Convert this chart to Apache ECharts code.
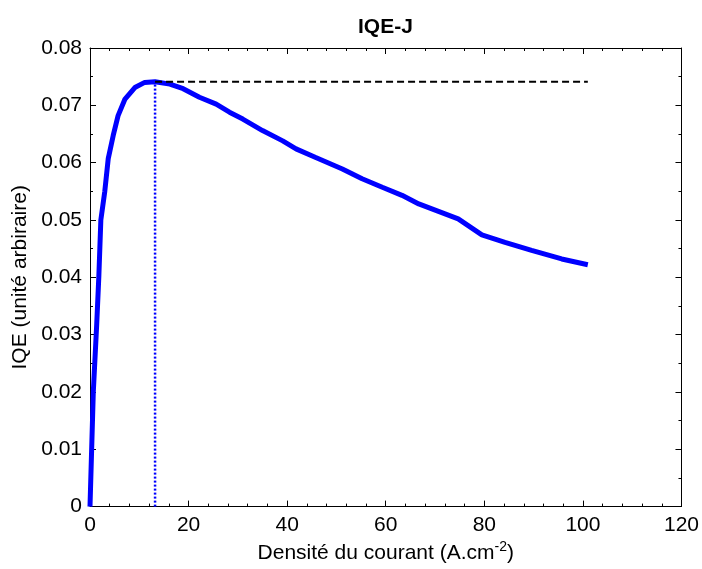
<!DOCTYPE html>
<html>
<head>
<meta charset="utf-8">
<script src="https://cdn.jsdelivr.net/npm/echarts@6/dist/echarts.min.js"></script>
<style>
html,body{margin:0;padding:0;background:#fff;}
#chart{width:702px;height:569px;}
</style>
</head>
<body>
<div id="chart"></div>
<script>
// Data
var currentDensity = [0, 0.67, 1.35, 1.8, 2.2, 3.0, 3.7, 4.7, 5.7, 7.1, 9.1, 11.1, 13.2, 16.2, 18.9, 22.2, 25.6, 28.3, 31, 35, 39.1, 41.8, 45.8, 51.2, 55.2, 59.3, 63.3, 66.7, 70.7, 74.7, 79.5, 84.2, 89.6, 95.7, 101];
var iqeValues = [0, 0.020, 0.0316, 0.0403, 0.050, 0.055, 0.0607, 0.0647, 0.0682, 0.0711, 0.0731, 0.0740, 0.0741, 0.0737, 0.0729, 0.0714, 0.0702, 0.0688, 0.0676, 0.0656, 0.0638, 0.0624, 0.0609, 0.0589, 0.0572, 0.0557, 0.0543, 0.0528, 0.0515, 0.0502, 0.0474, 0.0461, 0.0447, 0.0432, 0.0422];
var peakX = 13.2;
var peakY = 0.0741;
var dashEndX = 101;
var xTicks = [0, 20, 40, 60, 80, 100, 120];
var yTicks = [0, 0.01, 0.02, 0.03, 0.04, 0.05, 0.06, 0.07, 0.08];

var curve = currentDensity.map(function (x, i) { return [x, iqeValues[i]]; });
var FONT = '"Liberation Sans", Arial, sans-serif';
var FS = 21;

var chart = echarts.init(document.getElementById('chart'), null, {renderer: 'canvas'});

function xAxisBase(pos, show) {
  return {
    type: 'value', position: pos, min: xTicks[0], max: xTicks[xTicks.length - 1], interval: 20,
    axisLine: {show: true, onZero: false, lineStyle: {color: '#000', width: 1}},
    axisTick: {show: true, inside: true, length: 6, lineStyle: {color: '#000', width: 1}},
    minorTick: {show: true, splitNumber: 5, length: 3, lineStyle: {color: '#000', width: 1}},
    splitLine: {show: false},
    axisLabel: {show: show, color: '#000', fontFamily: FONT, fontSize: FS, margin: 8}
  };
}
function yAxisBase(pos, show) {
  return {
    type: 'value', position: pos, min: yTicks[0], max: yTicks[yTicks.length - 1], interval: 0.01,
    axisLine: {show: true, onZero: false, lineStyle: {color: '#000', width: 1}},
    axisTick: {show: true, inside: true, length: 6, lineStyle: {color: '#000', width: 1}},
    minorTick: {show: true, splitNumber: 2, length: 3, lineStyle: {color: '#000', width: 1}},
    splitLine: {show: false},
    axisLabel: {show: show, color: '#000', fontFamily: FONT, fontSize: FS, margin: 8,
      formatter: function (v) { return v === 0 ? '0' : v.toFixed(2); }}
  };
}

var xBottom = xAxisBase('bottom', true);
xBottom.name = '{a|Densité du courant (A.cm}{s|-2}{a|)}';
xBottom.nameLocation = 'middle';
xBottom.nameGap = 33;
xBottom.nameTextStyle = {
  rich: {
    a: {fontFamily: FONT, fontSize: FS, color: '#000'},
    s: {fontFamily: FONT, fontSize: 14, color: '#000', padding: [0, 0, 12, 0]}
  }
};
var xTop = xAxisBase('top', false);

var yLeft = yAxisBase('left', true);
yLeft.name = 'IQE (unité arbiraire)';
yLeft.nameLocation = 'middle';
yLeft.nameGap = 59;
yLeft.nameTextStyle = {fontFamily: FONT, fontSize: FS, color: '#000'};
var yRight = yAxisBase('right', false);

chart.setOption({
  animation: false,
  backgroundColor: '#fff',
  title: {
    text: 'IQE-J', left: 353, top: 12,
    textStyle: {fontFamily: FONT, fontSize: 21, fontWeight: 'bold', color: '#000'}
  },
  grid: {left: 90, right: 17, top: 48, bottom: 61, containLabel: false},
  xAxis: [xBottom, xTop],
  yAxis: [yLeft, yRight],
  series: [
    {
      type: 'line', xAxisIndex: 0, yAxisIndex: 0, data: curve, showSymbol: false, smooth: false,
      lineStyle: {color: '#0000ff', width: 5}, z: 2
    },
    {
      type: 'line', xAxisIndex: 0, yAxisIndex: 0, data: [[peakX, 0], [peakX, peakY]], showSymbol: false,
      lineStyle: {color: '#0000ff', width: 2.5, type: [2, 2]}, z: 3
    },
    {
      type: 'line', xAxisIndex: 0, yAxisIndex: 0, data: [[peakX, peakY], [dashEndX, peakY]], showSymbol: false,
      lineStyle: {color: '#000', width: 2, type: [7, 4]}, z: 4
    }
  ]
});
</script>
</body>
</html>
